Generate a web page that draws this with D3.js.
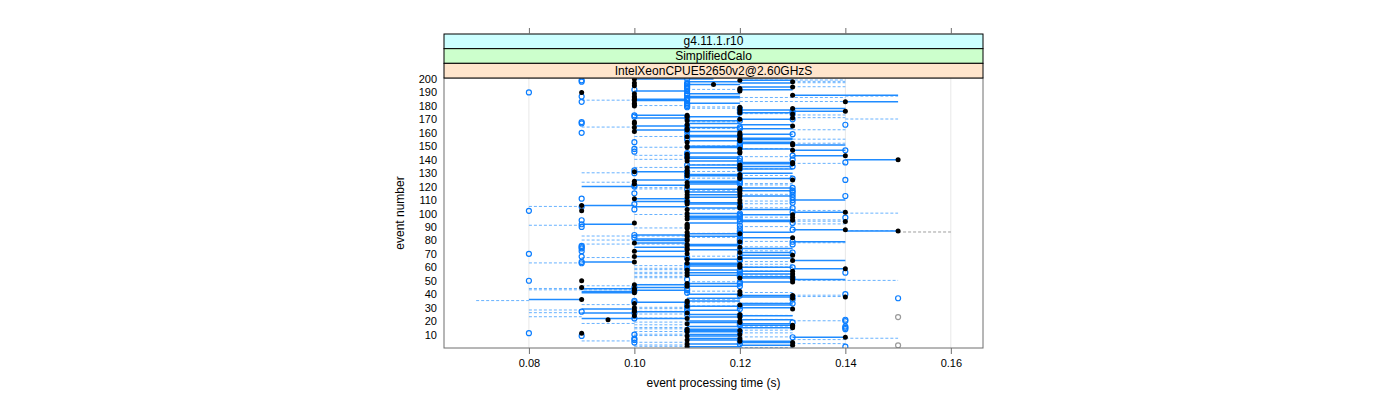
<!DOCTYPE html>
<html><head><meta charset="utf-8">
<script src="https://cdn.jsdelivr.net/npm/d3@7"></script>
<style>body{margin:0;background:#fff}svg{display:block}text{font-family:"Liberation Sans",Arial,sans-serif;fill:#000}</style>
</head><body><svg id="c" width="1400" height="400"></svg>
<script>
// Strip labels (outer to inner)
const stripLabels = ["g4.11.1.r10", "SimplifiedCalo", "IntelXeonCPUE52650v2@2.60GHzS"];
const stripColors = ["#ccffff", "#ccffcc", "#ffe5cc"];
const xTicks = [0.08, 0.10, 0.12, 0.14, 0.16];
const yTicks = [10,20,30,40,50,60,70,80,90,100,110,120,130,140,150,160,170,180,190,200];
const xLabel = "event processing time (s)";
const yLabel = "event number";
// Events are listed from 200 down to 1
const firstEvent = 200;
// black dot time per event
const blackTime = [
 0.10,0.12,0.13,0.10,0.115,0.10,0.13,0.12,0.12,0.12,
 0.09,0.10,0.13,0.10,0.10,0.10,0.10,0.14,0.10,0.10,
 0.10,0.12,0.13,0.12,0.14,0.12,0.13,0.11,0.11,0.13,
 0.12,0.11,0.10,0.10,0.11,0.13,0.10,0.11,0.11,0.10,
 0.12,0.12,0.12,0.11,0.12,0.12,0.12,0.11,0.13,0.13,
 0.11,0.11,0.12,0.13,0.12,0.12,0.11,0.14,0.11,0.11,
 0.15,0.11,0.13,0.13,0.12,0.12,0.11,0.12,0.11,0.10,
 0.11,0.12,0.11,0.12,0.12,0.13,0.10,0.11,0.10,0.11,
 0.11,0.12,0.12,0.12,0.11,0.12,0.11,0.12,0.11,0.10,
 0.12,0.11,0.12,0.11,0.09,0.12,0.12,0.11,0.09,0.14,
 0.11,0.13,0.11,0.13,0.11,0.13,0.14,0.10,0.11,0.11,
 0.11,0.11,0.14,0.15,0.11,0.12,0.11,0.11,0.13,0.11,
 0.11,0.12,0.10,0.11,0.11,0.12,0.11,0.11,0.10,0.12,
 0.11,0.13,0.10,0.12,0.11,0.13,0.10,0.11,0.12,0.12,
 0.12,0.14,0.11,0.13,0.11,0.13,0.11,0.13,0.12,0.13,
 0.09,0.13,0.11,0.10,0.11,0.09,0.10,0.10,0.12,0.10,
 0.12,0.13,0.14,0.13,0.09,0.11,0.11,0.10,0.12,0.11,
 0.10,0.13,0.10,0.10,0.11,0.12,0.10,0.12,0.11,0.095,
 0.12,0.12,0.11,0.13,0.13,0.13,0.11,0.12,0.11,0.09,
 0.12,0.11,0.14,0.12,0.11,0.12,0.13,0.11,0.13,0.11];
// open blue circle time per event
const blueTime = [
 0.11,0.09,0.09,0.11,0.11,0.11,0.11,0.11,0.10,0.11,
 0.08,0.11,0.11,0.09,0.11,0.11,0.11,0.09,0.11,0.11,
 0.11,0.11,0.12,0.12,0.13,0.12,0.13,0.10,0.10,0.11,
 0.13,0.12,0.09,0.09,0.14,0.11,0.12,0.12,0.11,0.11,
 0.09,0.13,0.11,0.12,0.11,0.11,0.12,0.10,0.12,0.12,
 0.12,0.12,0.10,0.14,0.10,0.11,0.11,0.13,0.11,0.12,
 0.13,0.12,0.14,0.12,0.11,0.13,0.12,0.12,0.10,0.11,
 0.10,0.11,0.12,0.11,0.13,0.14,0.12,0.12,0.12,0.10,
 0.10,0.13,0.11,0.13,0.13,0.10,0.13,0.14,0.13,0.09,
 0.13,0.11,0.13,0.10,0.12,0.09,0.13,0.10,0.08,0.13,
 0.12,0.12,0.12,0.14,0.12,0.09,0.12,0.13,0.09,0.12,
 0.09,0.12,0.13,0.12,0.12,0.12,0.10,0.12,0.10,0.12,
 0.12,0.13,0.12,0.13,0.09,0.09,0.09,0.12,0.09,0.13,
 0.08,0.12,0.09,0.11,0.12,0.12,0.09,0.09,0.11,0.11,
 0.13,0.11,0.12,0.12,0.14,0.12,0.12,0.12,0.13,0.11,
 0.08,0.12,0.12,0.11,0.12,0.10,0.11,0.11,0.10,0.11,
 0.14,0.12,0.13,0.15,0.13,0.10,0.10,0.13,0.11,0.12,
 0.11,0.12,0.11,0.09,0.10,0.11,0.12,0.15,0.10,0.14,
 0.14,0.13,0.12,0.12,0.14,0.14,0.14,0.11,0.12,0.08,
 0.10,0.09,0.13,0.10,0.10,0.12,0.10,0.12,0.15,0.14];
// solid interval per event
const solidRange = [
 [.10,.115],[.12,.13],[.11,.12],[.12,.13],[.11,.12],null,[.12,.13],null,[.12,.13],[.10,.11],
 null,[.11,.12],[.13,.15],[.11,.12],[.11,.12],[.10,.11],[.10,.11],[.14,.15],[.11,.12],null,
 null,null,[.13,.14],[.12,.13],[.13,.14],[.12,.13],null,[.10,.11],[.11,.12],[.10,.11],
 [.12,.13],[.11,.12],null,[.11,.12],[.12,.13],[.10,.11],[.11,.12],[.12,.13],[.10,.11],[.11,.12],
 null,[.12,.13],[.11,.12],[.11,.12],[.12,.13],[.12,.13],[.11,.12],[.12,.13],[.12,.13],[.13,.14],
 [.11,.12],[.11,.12],[.12,.13],[.13,.14],null,[.11,.12],null,[.13,.14],[.11,.12],[.11,.12],
 [.14,.15],[.11,.12],[.12,.13],[.12,.13],[.11,.12],[.12,.13],[.11,.12],[.12,.13],null,[.10,.11],
 [.12,.13],[.11,.12],[.11,.12],null,[.12,.13],[.10,.11],[.11,.12],[.11,.12],[.11,.12],[.10,.11],
 [.09,.10],[.12,.13],[.11,.12],[.12,.13],[.11,.12],null,[.11,.12],[.12,.13],[.11,.12],[.10,.11],
 [.13,.14],[.10,.11],[.11,.12],[.11,.12],[.09,.10],[.10,.11],[.11,.12],[.12,.13],null,[.13,.14],
 [.11,.12],[.12,.13],[.11,.12],[.11,.12],[.11,.12],[.12,.13],[.12,.13],[.11,.12],[.09,.10],null,
 null,null,[.13,.14],[.14,.15],[.12,.13],[.11,.12],[.10,.11],[.11,.12],[.12,.13],[.10,.11],
 [.10,.11],[.13,.14],[.10,.11],[.11,.12],[.11,.12],[.10,.11],[.12,.13],[.11,.12],[.10,.11],[.12,.13],
 null,[.12,.13],[.10,.11],[.12,.13],[.11,.12],[.13,.14],[.09,.10],[.11,.12],[.11,.12],[.11,.12],
 [.12,.13],[.13,.14],[.11,.12],[.12,.13],[.11,.12],[.12,.13],[.11,.12],[.12,.13],[.12,.13],[.13,.14],
 null,[.12,.13],[.11,.12],[.10,.11],[.11,.12],[.10,.11],[.09,.10],[.10,.11],[.09,.10],[.09,.10],
 [.11,.12],[.12,.13],[.12,.13],[.11,.12],[.08,.09],[.11,.12],[.10,.11],[.12,.13],[.12,.13],[.11,.12],
 [.12,.13],[.09,.10],[.11,.12],[.10,.11],[.09,.10],[.11,.12],[.12,.13],[.11,.12],[.09,.11],[.12,.13],
 [.11,.12],[.11,.12],[.12,.13],[.12,.13],[.11,.12],[.12,.13],[.11,.12],[.11,.12],[.11,.12],null,
 [.11,.12],[.11,.12],[.13,.14],[.11,.12],[.11,.12],[.12,.13],[.12,.13],[.11,.12],[.12,.13],[.11,.12]];
// dashed interval per event
const dashRange = [
 [.12,.14],[.13,.14],[.13,.14],null,null,[.13,.14],null,[.11,.12],null,null,
 null,null,[.14,.15],[.12,.14],null,[.09,.10],[.12,.14],null,null,[.10,.11],
 [.11,.12],[.11,.12],null,null,null,[.12,.13],[.13,.14],null,[.13,.14],[.14,.15],
 null,[.11,.12],null,null,null,[.09,.10],[.11,.12],[.13,.14],null,null,
 null,null,[.10,.11],null,[.13,.14],[.11,.12],null,[.13,.14],null,[.11,.12],
 [.10,.11],[.12,.13],null,null,null,null,[.10,.11],[.12,.13],null,[.10,.11],
 null,null,[.13,.14],[.11,.12],null,[.10,.11],[.12,.13],null,[.11,.12],[.09,.10],
 null,[.12,.13],null,[.11,.12],null,null,[.09,.10],[.12,.13],[.12,.13],null,
 [.10,.11],[.10,.11],[.11,.12],null,null,[.12,.13],null,null,null,null,
 [.12,.13],null,[.12,.13],null,[.08,.09],[.12,.13],[.11,.12],[.13,.14],null,[.14,.15],
 [.10,.11],null,[.12,.13],null,[.13,.14],[.13,.14],null,[.13,.14],[.08,.09],[.12,.13],
 [.10,.11],null,[.14,.15],[.15,.16],[.11,.12],null,[.09,.11],[.11,.12],null,[.09,.11],
 [.12,.13],[.13,.14],[.09,.11],null,[.12,.13],null,null,[.12,.13],null,null,
 null,[.11,.12],[.09,.10],null,null,[.12,.13],[.08,.09],[.12,.13],[.10,.11],[.12,.13],
 [.10,.11],[.10,.11],[.12,.13],[.10,.11],[.10,.11],[.12,.13],[.10,.11],[.10,.11],null,[.13,.15],
 [.11,.12],null,[.10,.11],[.09,.10],null,[.08,.10],[.08,.10],[.11,.12],[.12,.13],null,
 [.13,.14],[.13,.14],null,[.11,.12],[.07,.08],[.11,.12],[.12,.13],[.09,.10],[.11,.12],[.10,.11],
 [.10,.11],[.08,.09],[.10,.11],[.08,.09],[.10,.11],[.12,.13],[.08,.09],[.10,.11],[.12,.13],[.13,.14],
 [.10,.11],[.09,.10],[.10,.11],[.12,.13],[.10,.11],[.10,.11],[.12,.13],[.10,.11],[.12,.13],[.10,.11],
 [.10,.11],[.12,.13],[.14,.15],[.13,.14],[.09,.10],[.10,.11],[.13,.14],[.10,.11],[.10,.11],[.12,.13]];
const greyCircleEvents = [23, 2];
const greyDashEvents = [87];

const svg = d3.select("#c");
const P = {left:444, right:983, top:78, bottom:348, stripTop:34};
const x = d3.scaleLinear().domain([0.0639, 0.1661]).range([P.left, P.right]);
const y = d3.scaleLinear().domain([0, 200]).range([P.bottom, P.top + 1]);

const rows = blackTime.map((b, i) => ({
  ev: firstEvent - i, b, c: blueTime[i], s: solidRange[i], d: dashRange[i]
}));

// grid
svg.append("g").selectAll("line").data(xTicks).join("line")
  .attr("x1", d => x(d)).attr("x2", d => x(d))
  .attr("y1", P.top).attr("y2", P.bottom)
  .attr("stroke", "#e8e8e8").attr("stroke-width", 1);

svg.append("clipPath").attr("id","pc").append("rect")
  .attr("x", P.left).attr("y", P.top).attr("width", P.right-P.left).attr("height", P.bottom-P.top);
const g = svg.append("g").attr("clip-path","url(#pc)");

// dashed
g.append("g").selectAll("line").data(rows.filter(r => r.d)).join("line")
  .attr("x1", r => x(r.d[0])).attr("x2", r => x(r.d[1]))
  .attr("y1", r => y(r.ev) + 1).attr("y2", r => y(r.ev) + 1)
  .attr("stroke", r => greyDashEvents.includes(r.ev) ? "#8c8c8c" : "#4ea4ff")
  .attr("stroke-opacity", 0.85)
  .attr("stroke-width", 1).attr("stroke-dasharray", "3,2");
// solid
g.append("g").selectAll("line").data(rows.filter(r => r.s)).join("line")
  .attr("x1", r => x(r.s[0])).attr("x2", r => x(r.s[1]))
  .attr("y1", r => y(r.ev)).attr("y2", r => y(r.ev))
  .attr("stroke", "#1f8bff").attr("stroke-width", 1.5);
// open circles
g.append("g").selectAll("circle").data(rows.filter(r => r.c != null)).join("circle")
  .attr("cx", r => x(r.c)).attr("cy", r => y(r.ev)).attr("r", 2.5)
  .attr("fill", "none")
  .attr("stroke", r => greyCircleEvents.includes(r.ev) ? "#9a9a9a" : "#0a7dff")
  .attr("stroke-width", 1.2);
// black dots
g.append("g").selectAll("circle").data(rows.filter(r => r.b != null)).join("circle")
  .attr("cx", r => x(r.b)).attr("cy", r => y(r.ev)).attr("r", 2.5)
  .attr("fill", "#000");

// panel border
svg.append("rect").attr("x", P.left).attr("y", P.top)
  .attr("width", P.right-P.left).attr("height", P.bottom-P.top)
  .attr("fill","none").attr("stroke","#6e6e6e").attr("stroke-width",1);

// strips
const sh = (P.top - P.stripTop) / stripLabels.length;
stripLabels.forEach((lab, i) => {
  const y0 = P.stripTop + i*sh;
  svg.append("rect").attr("x", P.left).attr("y", y0).attr("width", P.right-P.left).attr("height", sh)
    .attr("fill", stripColors[i]).attr("stroke", "#000").attr("stroke-width", 1);
  svg.append("text").attr("x", (P.left+P.right)/2).attr("y", y0 + sh/2 + 4)
    .attr("text-anchor","middle").attr("font-size", 12).text(lab);
});

// bottom axis
const xb = svg.append("g").attr("transform", `translate(0,${P.bottom})`)
  .call(d3.axisBottom(x).tickValues(xTicks).tickFormat(d3.format(".2f")).tickSizeOuter(0).tickSize(6).tickPadding(5));
xb.select(".domain").remove();
xb.selectAll("line").attr("stroke","#6e6e6e");
xb.selectAll("text").attr("font-size", 11).attr("font-family","Liberation Sans, Arial, sans-serif");
// top axis (ticks only)
const xt = svg.append("g").attr("transform", `translate(0,${P.stripTop})`)
  .call(d3.axisTop(x).tickValues(xTicks).tickFormat("").tickSizeOuter(0).tickSize(6));
xt.select(".domain").remove();
xt.selectAll("line").attr("stroke","#6e6e6e");
// left axis (labels only)
const yl = svg.append("g").attr("transform", `translate(${P.left},0)`)
  .call(d3.axisLeft(y).tickValues(yTicks).tickSize(0).tickPadding(7));
yl.select(".domain").remove();
yl.selectAll("text").attr("font-size", 11).attr("font-family","Liberation Sans, Arial, sans-serif");

// axis titles
svg.append("text").attr("x", (P.left+P.right)/2).attr("y", 387)
  .attr("text-anchor","middle").attr("font-size", 12).text(xLabel);
svg.append("text").attr("transform", `translate(404,${(P.top+P.bottom)/2}) rotate(-90)`)
  .attr("text-anchor","middle").attr("font-size", 12).text(yLabel);
</script></body></html>
